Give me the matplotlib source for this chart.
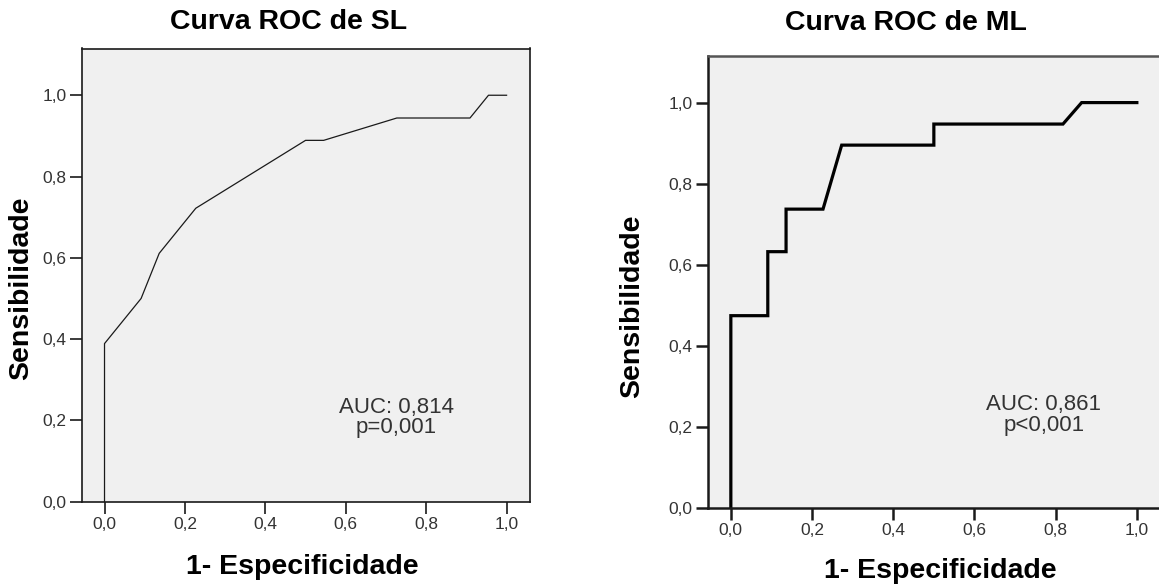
import matplotlib
matplotlib.use("Agg")
import matplotlib.pyplot as plt

plt.rcParams['font.family'] = ['Liberation Sans', 'DejaVu Sans']

# ROC points for SL (1 - specificity, sensitivity)
sl_fpr = [0.0, 0.0, 0.091, 0.136, 0.227, 0.5, 0.545, 0.727, 0.909, 0.955, 1.0]
sl_tpr = [0.0, 0.389, 0.5, 0.611, 0.722, 0.889, 0.889, 0.944, 0.944, 1.0, 1.0]

# ROC points for ML (step curve with a few ties)
ml_fpr = [0.0, 0.0, 0.091, 0.091, 0.136, 0.136, 0.227, 0.273, 0.5, 0.5, 0.818, 0.864, 1.0]
ml_tpr = [0.0, 0.474, 0.474, 0.632, 0.632, 0.737, 0.737, 0.895, 0.895, 0.947, 0.947, 1.0, 1.0]

titles = ['Curva ROC de SL', 'Curva ROC de ML']
auc_text = ['AUC: 0,814\np=0,001', 'AUC: 0,861\np<0,001']
ticks = [0.0, 0.2, 0.4, 0.6, 0.8, 1.0]
tick_labels = ['0,0', '0,2', '0,4', '0,6', '0,8', '1,0']

W, H = 1159, 584
fig = plt.figure(figsize=(W / 100, H / 100), dpi=100)

def px_axes(x0, x1, ytop, ybot):
    return fig.add_axes([x0 / W, 1 - ybot / H, (x1 - x0) / W, (ybot - ytop) / H])

ax1 = px_axes(82, 529.5, 48.5, 501.7)
ax2 = px_axes(707.7, 1160, 56, 507.7)

ax1.plot(sl_fpr, sl_tpr, color='#1a1a1a', lw=0.9)
ax2.plot(ml_fpr, ml_tpr, color='black', lw=2.3, solid_joinstyle='miter')

ax1.set_xlim(-0.056, 1.057)
ax2.set_xlim(-0.057, 1.057)

for ax, sw, tw in [(ax1, 1.2, 1.2), (ax2, 1.8, 1.8)]:
    ax.set_facecolor('#f0f0f0')
    ax.set_ylim(0, 1.115)
    ax.set_xticks(ticks)
    ax.set_xticklabels(tick_labels)
    ax.set_yticks(ticks)
    ax.set_yticklabels(tick_labels)
    ax.tick_params(direction='out', length=8.5, width=tw, pad=2.5,
                   labelsize=12.5, labelcolor='#333333', color='#1a1a1a')
    for s in ax.spines.values():
        s.set_linewidth(sw)
        s.set_color('#1a1a1a')
ax2.spines['top'].set_color('#555555')
ax2.spines['right'].set_color('#999999')

ax1.text(0.726, 0.208, auc_text[0], ha='center', va='center', fontsize=16,
         color='#333333', linespacing=0.95)
ax2.text(0.771, 0.229, auc_text[1], ha='center', va='center', fontsize=16,
         color='#333333', linespacing=0.95)

# titles and axis labels
fig.text(289 / W, 1 - 22 / H, titles[0], ha='center', va='center',
         fontsize=20.5, fontweight='bold')
fig.text(906 / W, 1 - 23 / H, titles[1], ha='center', va='center',
         fontsize=20.5, fontweight='bold')
fig.text(21 / W, 1 - 288 / H, 'Sensibilidade', rotation=90, ha='center',
         va='center', fontsize=20.5, fontweight='bold')
fig.text(632 / W, 1 - 306 / H, 'Sensibilidade', rotation=90, ha='center',
         va='center', fontsize=20.5, fontweight='bold')
fig.text(302 / W, 1 - 567 / H, '1- Especificidade', ha='center', va='center',
         fontsize=20.5, fontweight='bold')
fig.text(940 / W, 1 - 571 / H, '1- Especificidade', ha='center', va='center',
         fontsize=20.5, fontweight='bold')

fig.savefig('out.png', dpi=100)
